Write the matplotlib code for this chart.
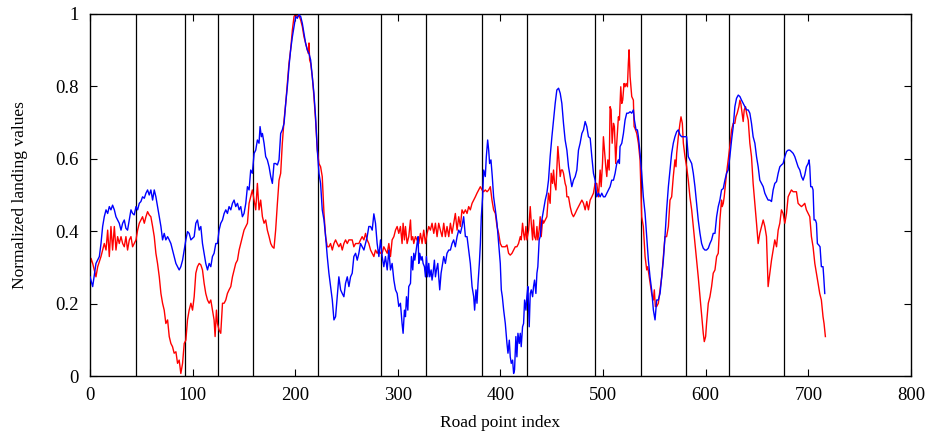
import matplotlib.pyplot as plt

# road point indices where the segments are split
splits = [45, 93, 125, 159, 222, 284, 327, 382, 426, 492, 537, 581, 623, 676]

red_x = [0, 1.0, 2.6, 4.2, 5.8, 7.5, 9.1, 10.7, 12.3, 13.9, 15.6, 17.2, 18.8, 20.4, 22.0, 23.7, 25.3, 26.9, 28.5, 30.2,
         31.8, 33.4, 35.0, 36.6, 38.3, 39.9, 41.5, 43.1, 44.8, 46.4, 48.0, 49.6, 51.2, 52.9, 54.5, 56.1, 57.7, 59.3, 61.0,
         62.6, 64.2, 65.8, 67.5, 69.1, 70.7, 72.3, 73.9, 75.6, 77.2, 78.8, 80.4, 82.0, 83.7, 85.3, 86.9, 88.5, 90.2, 91.8,
         93.4, 95.0, 96.6,
         98.3, 99.9, 101.5, 103.1, 104.7, 106.4, 108.0, 109.6, 111.2, 112.8, 114.5, 116.1, 117.7, 119.3, 120.9, 121.9,
         123.2, 124.2, 125.8, 127.4, 129.1, 130.7, 132.3, 133.9, 135.5, 137.2, 138.8, 140.4, 142.0, 143.7, 145.3, 146.9,
         148.5, 150.1, 151.8, 153.4, 155.0, 156.6, 158.2, 159.9, 161.5, 163.1, 164.7, 166.3, 168.0, 169.6, 171.2, 172.8,
         174.5, 176.1, 177.7, 179.3, 180.9, 182.6, 184.2, 185.8, 187.4, 189.1, 190.7, 192.3, 193.9, 195.5, 197.2, 198.8,
         200.4, 202.0, 203.6, 205.3, 206.9, 208.5, 210.1, 211.7, 212.7, 213.4, 214.0, 215.0, 216.6, 218.2, 219.8, 221.5,
         223.1, 224.7, 226.3, 228.0, 229.6, 231.2, 232.8, 234.4, 236.1, 237.7, 239.3, 240.9, 242.5, 244.2, 245.8, 247.4,
         249.0, 250.7, 252.3, 253.9, 255.5, 257.1, 258.8, 260.4, 262.0, 263.6, 265.2, 266.9, 268.5, 270.1, 271.7, 273.4,
         275.0, 276.6, 278.2, 279.8, 281.5, 283.1, 284.7, 286.3, 287.9, 289.6, 291.2, 292.8, 294.4, 296.1, 297.7, 299.3,
         300.9,
         302.5, 304.1, 305.1, 306.4, 307.4, 309.0, 310.6, 312.3, 313.2, 314.5, 315.5, 317.1, 318.7, 320.4, 322.0, 323.6,
         325.2, 326.9, 328.5, 330.1, 331.7, 333.3, 335.0, 336.6, 338.2, 339.8, 341.4, 343.1, 344.7, 346.3, 347.9, 349.6,
         351.2, 352.8, 354.4, 356.0, 357.7, 359.3, 360.9, 362.5, 364.1, 365.8, 367.4, 369.0, 370.6, 372.3, 373.9, 375.5,
         377.1, 378.7, 380.4, 382.0, 383.6, 385.2, 386.9, 388.5, 390.1, 391.7, 393.3, 395.0, 396.6, 398.2, 399.8, 401.4,
         403.1,
         404.7, 406.3, 407.9, 409.5, 411.2, 412.8, 414.4, 416.0, 417.6, 419.3, 420.2, 421.5, 422.5, 423.5, 424.8, 425.7,
         427.4, 429.0, 430.0, 431.3, 432.2, 433.2, 434.5, 435.5, 436.4, 437.7, 438.7, 439.7, 441.0, 442.0, 443.6, 445.2,
         446.8, 448.4, 449.4, 450.7, 451.7, 452.7, 454.0, 455.0, 455.9, 457.2, 458.2, 459.2, 460.4, 461.4, 463.0, 464.0,
         464.7, 466.3, 467.9, 469.5, 471.1, 472.8, 474.4, 476.0, 477.6, 479.3, 480.9, 482.5, 484.1, 485.7, 487.4, 489.0,
         490.6, 492.2, 493.8, 495.5, 497.1, 498.1, 499.4, 500.3, 501.3, 502.6, 503.6, 504.6, 505.9,
         506.8, 507.8, 508.8, 510.1, 511.0, 512.3, 513.3, 514.9, 515.9, 517.2, 518.2, 519.1, 520.4, 521.4, 522.4, 523.7,
         524.6, 525.3, 526.3, 527.9, 529.5, 530.2, 531.1, 532.8, 534.4, 536.0, 537.6, 539.2, 540.9, 542.5, 543.5, 544.4,
         545.7, 547.3, 549.0, 549.9, 550.9, 552.2, 553.8, 555.5, 557.1, 558.7, 560.3, 561.9, 563.6, 565.2, 566.8, 568.4,
         570.0, 571.0, 571.7, 573.3, 574.9, 575.9, 577.2, 578.2, 579.8, 581.4, 583.0, 584.6, 586.3, 587.9, 589.5, 591.1,
         592.7, 594.4, 596.0, 597.6, 598.6, 599.9, 600.8, 602.5, 604.1, 605.7, 607.3,
         609.0, 610.6, 612.2, 613.8, 615.4, 616.1, 617.1, 618.0, 618.7, 620.3, 621.9, 623.5, 625.2, 626.8, 628.4, 629.4,
         630.7, 632.3, 633.3, 634.2, 635.5, 636.5, 637.5, 638.8, 639.8, 641.4, 643.0, 644.6, 646.2, 647.9, 649.5, 651.1,
         652.7, 654.4, 656.0, 657.6, 659.2, 660.8, 662.5, 664.1, 665.7, 667.3, 669.0, 670.6, 672.2, 673.8, 675.4, 677.1,
         678.7, 680.3, 681.9, 683.5, 685.2, 686.8, 688.4, 690.0, 691.7, 693.3, 694.9, 696.5, 698.1, 699.8, 701.4, 703.0,
         704.6, 706.3, 707.9, 709.5, 711.1, 712.7, 714.3, 715.3, 716.6]

red_y = [0.302, 0.325, 0.311, 0.293, 0.274, 0.302, 0.316, 0.330, 0.348, 0.366, 0.348, 0.403, 0.330, 0.413, 0.348, 0.413,
         0.348, 0.385, 0.366, 0.385, 0.366, 0.357, 0.385, 0.348, 0.376, 0.385, 0.357, 0.366, 0.376, 0.403, 0.422, 0.431,
         0.440, 0.422, 0.440, 0.454, 0.445, 0.440, 0.413, 0.385, 0.339, 0.311, 0.274, 0.228, 0.201, 0.182, 0.145, 0.155,
         0.109, 0.090, 0.081, 0.063, 0.067, 0.035, 0.044, 0.007, 0.035, 0.090, 0.099, 0.155, 0.182,
         0.201, 0.182, 0.219, 0.284, 0.302, 0.311, 0.307, 0.293, 0.256, 0.228, 0.210, 0.201, 0.210, 0.182, 0.155, 0.109,
         0.182, 0.145, 0.127, 0.118, 0.201, 0.201, 0.210, 0.228, 0.238, 0.247, 0.274, 0.293, 0.311, 0.320, 0.348, 0.366,
         0.385, 0.403, 0.413, 0.422, 0.477, 0.495, 0.514, 0.486, 0.459, 0.532, 0.459, 0.486, 0.440, 0.422, 0.431, 0.403,
         0.385, 0.366, 0.357, 0.353, 0.403, 0.477, 0.541, 0.560, 0.643, 0.707, 0.753, 0.808, 0.864, 0.901, 0.956, 0.993,
         1.000, 0.993, 0.997, 0.983, 0.965, 0.937, 0.919, 0.901, 0.891, 0.920, 0.873, 0.864, 0.827, 0.772, 0.707, 0.624,
         0.587, 0.578, 0.551, 0.449, 0.385, 0.357, 0.357, 0.366, 0.348, 0.366, 0.376, 0.366, 0.357, 0.366, 0.348, 0.366,
         0.376, 0.366, 0.376, 0.376, 0.376, 0.357, 0.366, 0.366, 0.366, 0.376, 0.385, 0.376, 0.394, 0.376, 0.366, 0.348,
         0.339, 0.330, 0.348, 0.339, 0.348, 0.339, 0.339, 0.357, 0.348, 0.339, 0.366, 0.330, 0.376, 0.385, 0.403, 0.413,
         0.394,
         0.413, 0.366, 0.422, 0.376, 0.413, 0.366, 0.385, 0.431, 0.376, 0.385, 0.366, 0.385, 0.376, 0.366, 0.394, 0.366,
         0.403, 0.366, 0.394, 0.413, 0.403, 0.422, 0.394, 0.422, 0.385, 0.422, 0.403, 0.385, 0.422, 0.385, 0.413, 0.385,
         0.422, 0.394, 0.422, 0.449, 0.403, 0.440, 0.413, 0.459, 0.449, 0.459, 0.449, 0.468, 0.459, 0.477, 0.486, 0.495,
         0.505, 0.514, 0.523, 0.514, 0.509, 0.514, 0.509, 0.514, 0.523, 0.486, 0.459, 0.449, 0.413, 0.394, 0.366, 0.357,
         0.357,
         0.357, 0.362, 0.339, 0.334, 0.339, 0.348, 0.357, 0.357, 0.366, 0.385, 0.376, 0.422, 0.394, 0.376, 0.413, 0.376,
         0.403, 0.468, 0.422, 0.376, 0.431, 0.385, 0.376, 0.413, 0.376, 0.403, 0.440, 0.385, 0.431, 0.422, 0.431, 0.440,
         0.505, 0.477, 0.560, 0.532, 0.569, 0.532, 0.514, 0.578, 0.634, 0.587, 0.551, 0.569, 0.569, 0.560, 0.532, 0.523,
         0.495, 0.495, 0.468, 0.449, 0.440, 0.449, 0.459, 0.468, 0.477, 0.486, 0.477, 0.459, 0.482, 0.459, 0.486, 0.495,
         0.505, 0.532, 0.532, 0.495, 0.569, 0.523, 0.587, 0.661, 0.624, 0.578, 0.551, 0.597, 0.569,
         0.744, 0.735, 0.643, 0.698, 0.689, 0.587, 0.643, 0.716, 0.707, 0.799, 0.753, 0.762, 0.808, 0.799, 0.808, 0.799,
         0.864, 0.901, 0.827, 0.772, 0.762, 0.689, 0.684, 0.670, 0.643, 0.597, 0.440, 0.413, 0.330, 0.293, 0.302, 0.284,
         0.256, 0.228, 0.210, 0.238, 0.192, 0.192, 0.201, 0.238, 0.274, 0.330, 0.385, 0.385, 0.413, 0.486, 0.495, 0.551,
         0.597, 0.578, 0.615, 0.661, 0.698, 0.716, 0.698, 0.643, 0.606, 0.578, 0.541, 0.495, 0.459, 0.413, 0.366, 0.320,
         0.274, 0.219, 0.164, 0.118, 0.095, 0.109, 0.145, 0.201, 0.219, 0.247, 0.284,
         0.293, 0.330, 0.339, 0.431, 0.486, 0.468, 0.477, 0.495, 0.514, 0.560, 0.597, 0.634, 0.680, 0.698, 0.698, 0.716,
         0.726, 0.744, 0.762, 0.753, 0.726, 0.703, 0.735, 0.744, 0.726, 0.707, 0.643, 0.606, 0.532, 0.477, 0.422, 0.366,
         0.394, 0.413, 0.431, 0.413, 0.385, 0.247, 0.284, 0.320, 0.348, 0.376, 0.357, 0.403, 0.422, 0.459, 0.449, 0.422,
         0.449, 0.495, 0.505, 0.514, 0.509, 0.509, 0.509, 0.477, 0.472, 0.468, 0.472, 0.477, 0.459, 0.449, 0.440, 0.385,
         0.357, 0.311, 0.284, 0.256, 0.228, 0.210, 0.164, 0.145, 0.109]

blue_x = [0, 2.6, 5.8, 9.1, 10.7, 12.3, 13.9, 15.6, 17.2, 18.8, 20.4, 22.0, 23.7, 25.3, 26.9, 28.5, 30.2, 31.8, 33.4,
          35.0, 36.6, 38.3, 39.9, 41.5, 43.1, 44.8, 46.4, 48.0, 49.6, 51.2, 52.9, 54.5, 56.1, 57.7, 59.3, 61.0, 62.6,
          64.2, 65.8, 67.5, 69.1, 70.7, 72.3, 73.9, 75.6, 77.2, 78.8, 80.4, 82.0, 83.7, 85.3, 86.9, 88.5, 90.2, 91.8,
          93.4, 95.0, 96.6,
          98.3, 101.5, 103.1, 104.7, 106.4, 108.0, 109.6, 111.2, 112.8, 114.5, 116.1, 117.7, 119.3, 120.9, 122.6, 124.2,
          125.8, 127.4, 129.1, 130.7, 132.3, 133.9, 135.5, 137.2, 138.8, 140.4, 142.0, 143.7, 145.3, 146.9, 148.5, 150.1,
          151.8, 153.4, 155.0, 156.6, 158.2, 159.9, 161.5, 163.1, 164.7, 165.7, 167.0, 168.0, 169.6, 171.2, 172.8, 174.5,
          176.1, 177.7, 179.3, 180.9, 182.6, 184.2, 185.8, 187.4, 189.1, 190.7, 192.3, 193.9, 195.5, 197.2, 198.8,
          200.4, 202.0, 203.6, 205.3, 206.9, 208.5, 210.1, 211.7, 213.4, 215.0, 216.6, 218.2, 219.8, 221.5, 223.1, 224.7,
          226.3, 228.0, 229.6, 231.2, 232.8, 234.4, 236.1, 237.7, 239.3, 240.9, 242.5, 244.2, 245.8, 247.4, 249.0, 250.7,
          252.3, 253.9, 255.5, 257.1, 258.8, 260.4, 262.0, 263.6, 265.2, 266.9, 268.5, 270.1, 271.7, 273.4, 275.0, 276.6,
          278.2, 279.8, 281.5, 283.1, 284.7, 286.3, 287.9, 289.6, 291.2, 292.8, 294.4, 296.1, 297.7, 299.3, 300.9,
          302.5, 304.1, 305.1, 306.4, 307.4, 308.4, 309.7, 310.6, 312.3, 313.2, 314.5, 315.5, 316.5, 317.8, 318.7, 319.7,
          320.4, 321.3, 322.6, 323.6, 324.6, 325.9, 326.9, 327.8, 329.1, 330.1, 331.1, 332.4, 333.3, 334.3, 335.6, 336.6,
          337.6, 338.9, 339.8, 340.8, 342.1, 343.1, 344.7, 346.3, 347.9, 349.6, 351.2, 352.8, 354.4, 356.0, 357.7, 359.3,
          360.9, 362.5, 364.1, 365.8, 367.4, 369.0, 370.6, 372.3, 373.9, 374.8, 376.1, 377.1, 378.1, 379.4, 380.4, 381.3,
          382.6, 383.6, 385.2, 386.2, 387.5, 388.5, 389.4, 390.7, 392.0, 393.3, 395.0, 396.6, 398.2, 399.8, 400.8, 401.8,
          403.1,
          404.7, 406.3, 407.3, 408.6, 409.5, 410.5, 411.8, 412.8, 413.7, 415.0, 416.0, 417.0, 418.3, 419.3, 420.2, 421.5,
          422.5, 423.5, 424.8, 425.7, 426.7, 428.0, 429.0, 430.0, 431.3, 432.2, 433.2, 434.5, 435.5, 436.4, 437.7, 438.7,
          440.3, 442.0, 443.6, 445.2, 446.8, 448.4, 450.1, 451.7, 453.3, 454.9, 456.6, 458.2, 459.8, 461.4, 463.0, 464.7,
          466.3, 467.9, 469.5, 471.1, 472.8, 474.4, 476.0, 477.6, 479.3, 480.9, 482.5, 484.1, 485.7, 487.4, 489.0, 490.6,
          492.2, 493.8, 495.5, 497.1, 498.7, 500.3, 501.9, 503.6, 505.2,
          506.8, 508.4, 510.1, 511.7, 513.3, 514.9, 515.9, 516.5, 518.2, 519.8, 521.4, 523.0, 524.6, 526.3, 527.9, 529.5,
          530.5, 532.1, 533.4, 534.4, 536.0, 537.6, 539.2, 540.9, 542.5, 544.1, 545.7, 547.3, 549.0, 550.6, 552.2, 553.8,
          555.5, 557.1, 558.7, 560.3, 561.9, 563.6, 565.2, 566.8, 568.4, 570.0, 571.7, 573.3, 574.9, 576.5, 578.2, 579.8,
          581.4, 583.0, 584.6, 586.3, 587.9, 589.5, 591.1, 592.7, 594.4, 596.0, 597.6, 599.2, 600.8, 602.5, 604.1, 605.7,
          607.3,
          609.0, 610.6, 612.2, 613.8, 615.4, 617.1, 618.7, 620.3, 621.9, 623.5, 625.2, 626.8, 628.4, 630.0, 631.7, 633.3,
          634.9, 636.5, 638.1, 639.8, 641.4, 643.0, 644.6, 646.2, 647.9, 649.5, 651.1, 652.7, 654.4, 656.0, 657.6, 659.2,
          660.8, 662.5, 664.1, 665.7, 667.3, 669.0, 670.6, 672.2, 673.8, 675.4, 677.1, 678.7, 680.3, 681.9, 683.5, 685.2,
          686.8, 688.4, 690.0, 691.7, 693.3, 694.9, 696.5, 698.1, 699.8, 700.7, 701.4, 702.3, 703.6, 704.6, 705.6, 706.9,
          707.9, 708.8, 710.1, 711.4, 712.7, 714.3, 715.0, 716.0]

blue_y = [0.274, 0.247, 0.311, 0.330, 0.366, 0.413, 0.440, 0.459, 0.449, 0.468, 0.459, 0.472, 0.459, 0.440, 0.431,
          0.422, 0.403, 0.422, 0.431, 0.408, 0.403, 0.431, 0.459, 0.449, 0.445, 0.468, 0.459, 0.477, 0.482, 0.495, 0.491,
          0.505, 0.514, 0.500, 0.514, 0.486, 0.514, 0.495, 0.468, 0.440, 0.413, 0.376, 0.394, 0.376, 0.385, 0.376, 0.366,
          0.348, 0.330, 0.311, 0.302, 0.293, 0.302, 0.320, 0.348, 0.376, 0.399, 0.394,
          0.376, 0.385, 0.422, 0.431, 0.403, 0.413, 0.366, 0.339, 0.311, 0.293, 0.311, 0.302, 0.330, 0.339, 0.366, 0.366,
          0.403, 0.422, 0.431, 0.449, 0.459, 0.449, 0.468, 0.459, 0.477, 0.486, 0.468, 0.477, 0.459, 0.468, 0.440, 0.449,
          0.477, 0.523, 0.514, 0.569, 0.560, 0.615, 0.624, 0.652, 0.643, 0.689, 0.661, 0.670, 0.643, 0.606, 0.597, 0.578,
          0.551, 0.532, 0.587, 0.587, 0.583, 0.597, 0.670, 0.680, 0.698, 0.753, 0.799, 0.855, 0.901, 0.937, 0.965,
          0.993, 0.988, 0.998, 0.993, 0.974, 0.947, 0.919, 0.901, 0.891, 0.873, 0.827, 0.781, 0.716, 0.624, 0.560, 0.532,
          0.459, 0.431, 0.385, 0.330, 0.284, 0.247, 0.210, 0.155, 0.164, 0.219, 0.274, 0.238, 0.228, 0.219, 0.256, 0.274,
          0.247, 0.274, 0.284, 0.330, 0.339, 0.320, 0.339, 0.366, 0.357, 0.348, 0.366, 0.385, 0.413, 0.413, 0.403, 0.448,
          0.422, 0.366, 0.330, 0.376, 0.330, 0.302, 0.330, 0.293, 0.348, 0.293, 0.311, 0.265, 0.238, 0.228, 0.192,
          0.201, 0.145, 0.118, 0.182, 0.164, 0.219, 0.182, 0.247, 0.256, 0.330, 0.293, 0.339, 0.320, 0.348, 0.366, 0.385,
          0.311, 0.339, 0.320, 0.330, 0.311, 0.302, 0.274, 0.330, 0.274, 0.311, 0.274, 0.293, 0.265, 0.284, 0.320, 0.274,
          0.293, 0.311, 0.274, 0.238, 0.284, 0.302, 0.330, 0.311, 0.339, 0.348, 0.348, 0.366, 0.376, 0.357, 0.385, 0.403,
          0.394, 0.413, 0.440, 0.385, 0.385, 0.348, 0.311, 0.247, 0.219, 0.182, 0.238, 0.201, 0.256, 0.311, 0.366, 0.440,
          0.495, 0.569, 0.551, 0.606, 0.652, 0.624, 0.587, 0.597, 0.551, 0.495, 0.459, 0.422, 0.366, 0.311, 0.238, 0.219,
          0.182,
          0.145, 0.090, 0.063, 0.099, 0.053, 0.035, 0.044, 0.007, 0.017, 0.109, 0.053, 0.118, 0.090, 0.118, 0.081, 0.136,
          0.145, 0.210, 0.182, 0.219, 0.247, 0.136, 0.228, 0.238, 0.219, 0.247, 0.265, 0.228, 0.284, 0.302, 0.376, 0.385,
          0.431, 0.459, 0.486, 0.505, 0.541, 0.606, 0.661, 0.707, 0.753, 0.790, 0.795, 0.781, 0.753, 0.698, 0.652, 0.624,
          0.578, 0.551, 0.523, 0.541, 0.551, 0.569, 0.624, 0.643, 0.670, 0.680, 0.703, 0.689, 0.661, 0.657, 0.606, 0.560,
          0.541, 0.495, 0.505, 0.495, 0.505, 0.495, 0.495, 0.505, 0.514,
          0.523, 0.541, 0.541, 0.560, 0.587, 0.597, 0.587, 0.634, 0.643, 0.670, 0.707, 0.726, 0.726, 0.730, 0.726, 0.735,
          0.707, 0.680, 0.680, 0.661, 0.615, 0.560, 0.495, 0.449, 0.385, 0.320, 0.274, 0.238, 0.182, 0.155, 0.210, 0.210,
          0.228, 0.274, 0.320, 0.385, 0.459, 0.523, 0.569, 0.615, 0.643, 0.661, 0.675, 0.680, 0.666, 0.661, 0.661, 0.661,
          0.661, 0.606, 0.597, 0.587, 0.560, 0.523, 0.477, 0.431, 0.394, 0.366, 0.353, 0.348, 0.348, 0.353, 0.366, 0.376,
          0.394,
          0.394, 0.440, 0.468, 0.486, 0.514, 0.518, 0.541, 0.560, 0.569, 0.606, 0.652, 0.689, 0.744, 0.767, 0.776, 0.772,
          0.762, 0.753, 0.744, 0.735, 0.735, 0.726, 0.698, 0.661, 0.643, 0.606, 0.578, 0.541, 0.532, 0.523, 0.505, 0.495,
          0.486, 0.486, 0.482, 0.514, 0.532, 0.537, 0.560, 0.578, 0.583, 0.587, 0.606, 0.620, 0.624, 0.624, 0.620, 0.615,
          0.606, 0.592, 0.578, 0.569, 0.551, 0.541, 0.555, 0.578, 0.587, 0.597, 0.578, 0.523, 0.523, 0.514, 0.431, 0.431,
          0.422, 0.366, 0.362, 0.357, 0.302, 0.302, 0.274, 0.228]

plt.rcParams['font.family'] = ['Liberation Serif', 'DejaVu Serif']

fig = plt.figure(figsize=(9.27, 4.32), dpi=100)
ax = fig.add_axes([0.0971, 0.1296, 0.8856, 0.838])

for s in splits:
    ax.axvline(s, color='black', lw=0.9, zorder=1)

ax.plot(red_x, red_y, color='#ff0000', lw=1.0, zorder=2)
ax.plot(blue_x, blue_y, color='#0000ff', lw=1.0, zorder=3)

ax.set_xlim(0, 800)
ax.set_ylim(0, 1)
ax.set_xticks(range(0, 801, 100))
ax.set_yticks([0, 0.2, 0.4, 0.6, 0.8, 1])
ax.set_yticklabels(['0', '0.2', '0.4', '0.6', '0.8', '1'])
ax.tick_params(direction='in', top=True, right=True, length=5, width=0.8, labelsize=13.5, pad=8)
for sp in ax.spines.values():
    sp.set_linewidth(1.0)

ax.set_xlabel('Road point index', fontsize=12.5, labelpad=8)
ax.set_ylabel('Normalized landing values', fontsize=12.5, labelpad=20)

fig.savefig('out.png', dpi=100)
